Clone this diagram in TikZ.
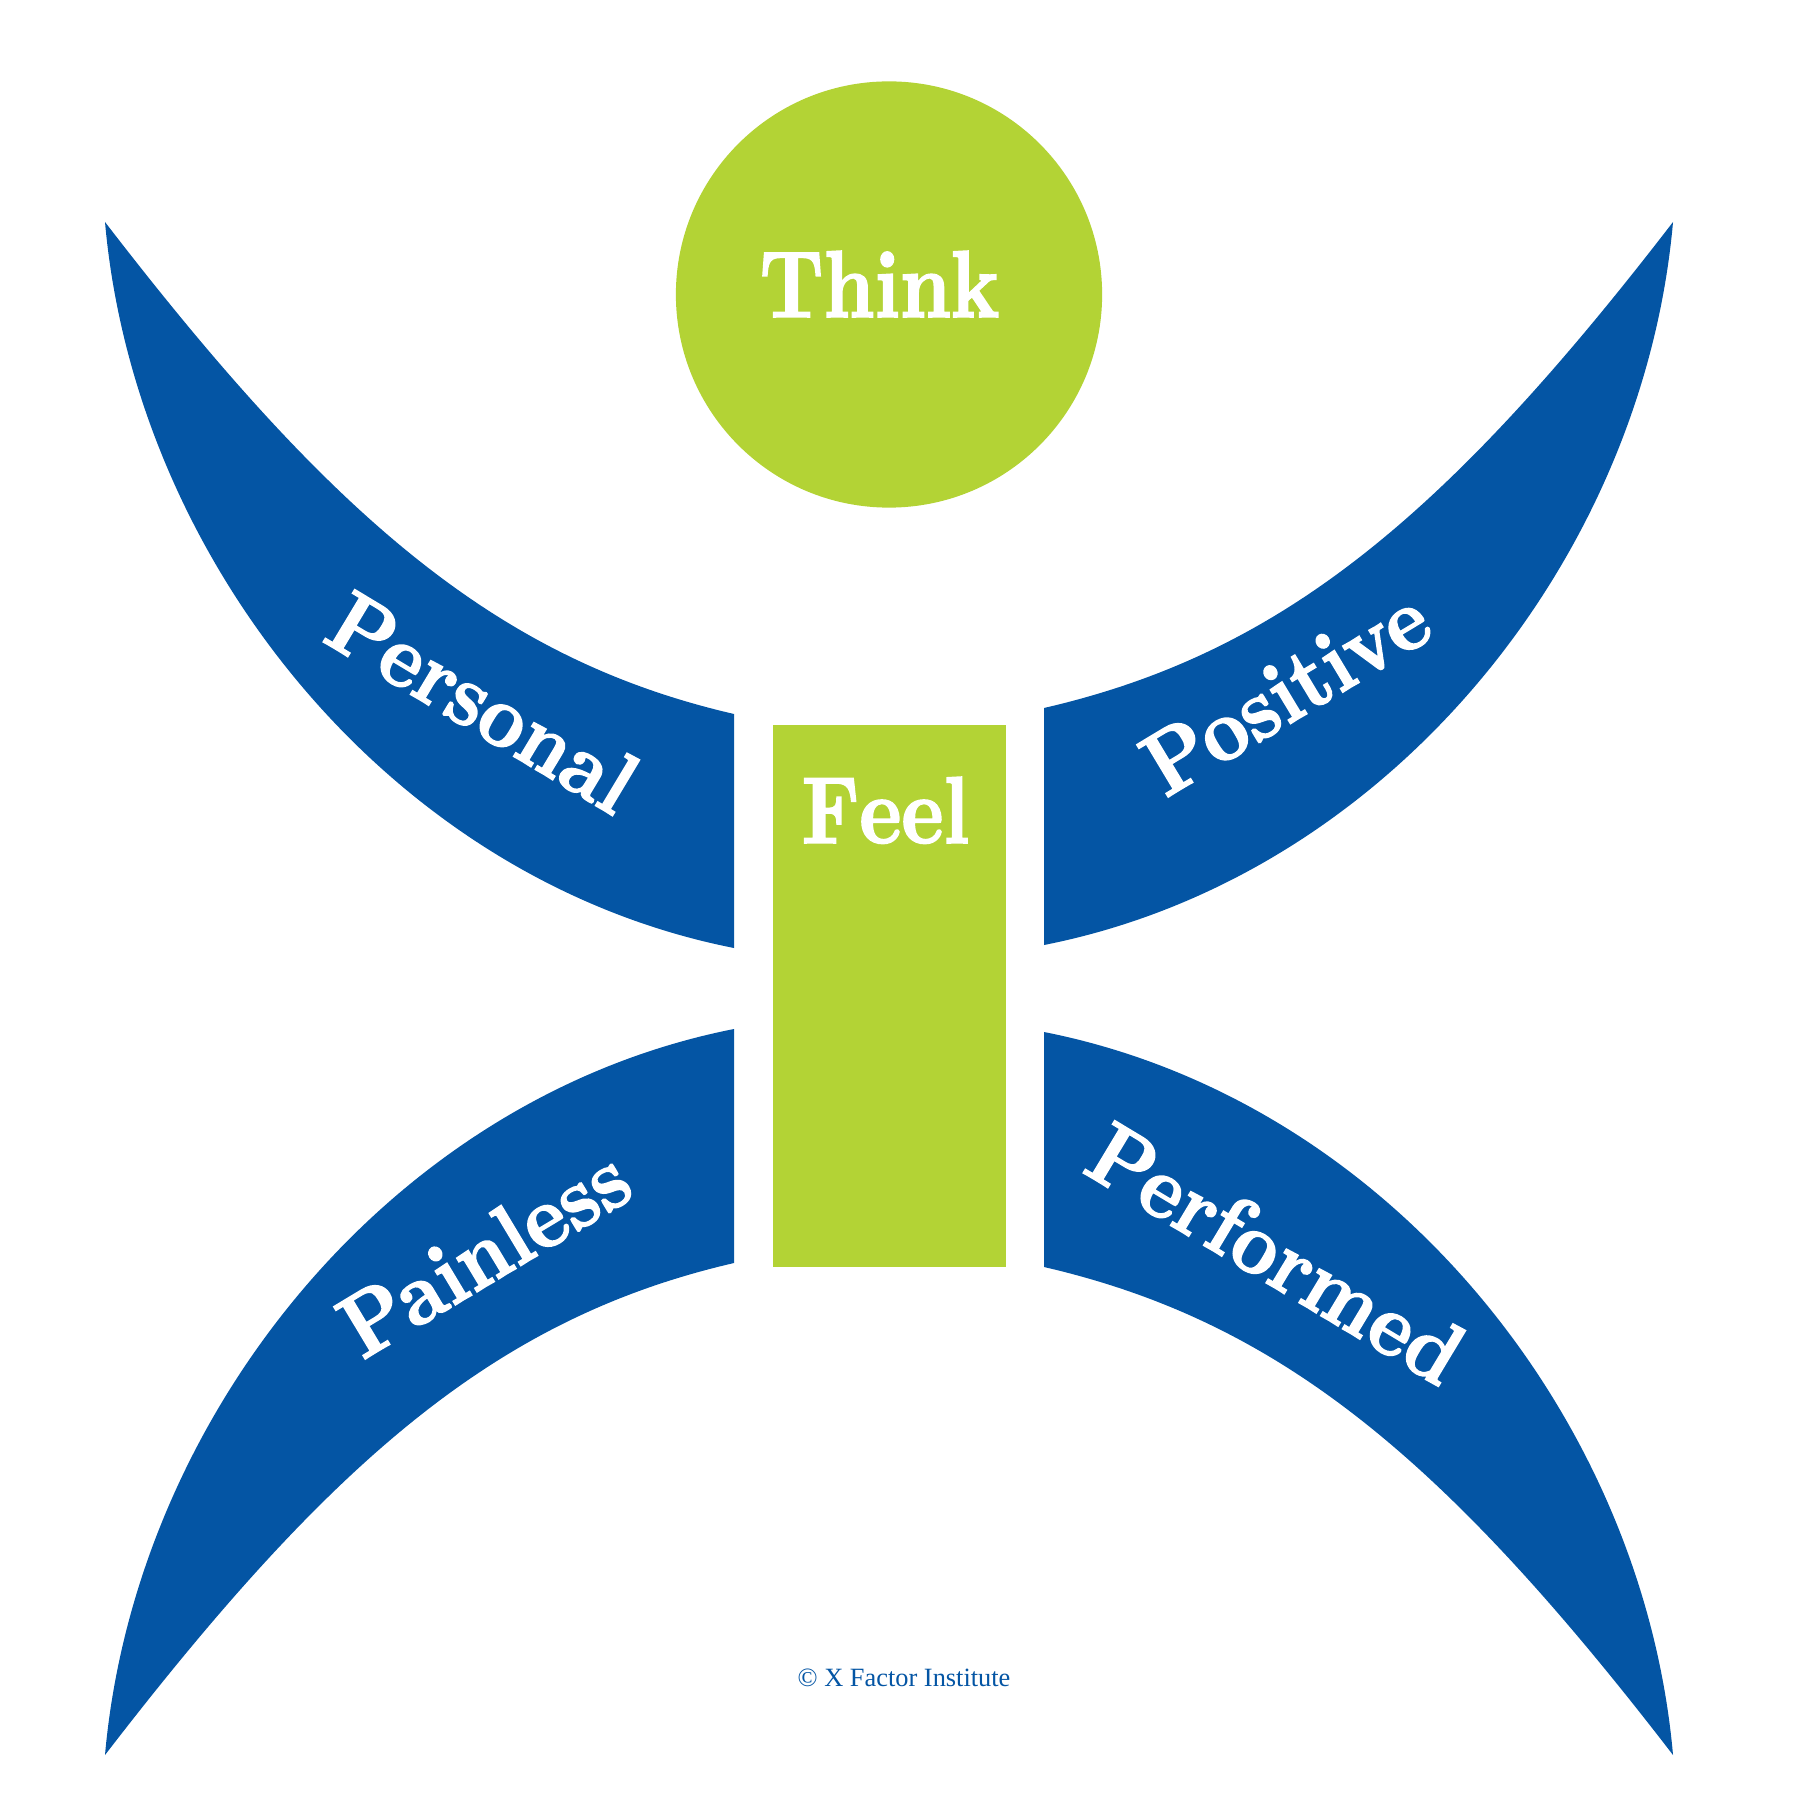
\documentclass[tikz,border=0pt]{standalone}
\usepackage{fontspec}
\setmainfont{Liberation Serif}
\newfontfamily\bigfont[FakeStretch=0.84,FakeBold=1.8,Kerning=Off]{lmroman10-bold.otf}
\newfontfamily\wordfont[FakeStretch=0.895,FakeBold=1.8]{lmroman10-bold.otf}
\definecolor{wingblue}{HTML}{0455A4}
\definecolor{limegreen}{HTML}{B3D335}
\begin{document}
\begin{tikzpicture}[
	x=0.01cm,y=-0.01cm,
	wing/.style={fill=wingblue},
	bodypart/.style={fill=limegreen,inner sep=0pt},
	wordnode/.style={text=white,inner sep=0pt,anchor=base west,font=\fontsize{25.3}{30}\selectfont\wordfont},
	bigword/.style={text=white,inner sep=0pt,anchor=base west,font=\fontsize{27}{30}\selectfont\bigfont}]
	\useasboundingbox (0,0) rectangle (1804,1807);
	% head and body
	\node[bodypart,circle,minimum size=4.26cm] (head) at (889,294.5) {};
	\node[bodypart,rectangle,minimum width=2.33cm,minimum height=5.42cm] (body) at (889.5,996) {};
	% four wings
	\fill[wing] (105,222) .. controls (335,521) and (500,660) .. (734,714) -- (734,948) .. controls (390,880) and (135,560) .. (105,222) -- cycle;
	\fill[wing] (1673,222) .. controls (1443,521) and (1278,654) .. (1044,708) -- (1044,945) .. controls (1388,877) and (1643,560) .. (1673,222) -- cycle;
	\fill[wing] (105,1755) .. controls (335,1456) and (500,1317) .. (734,1263) -- (734,1029) .. controls (390,1097) and (135,1417) .. (105,1755) -- cycle;
	\fill[wing] (1673,1755) .. controls (1443,1456) and (1278,1321) .. (1044,1267) -- (1044,1032) .. controls (1388,1100) and (1643,1417) .. (1673,1755) -- cycle;
	% labels
	\node[bigword] (think) at (759,317) {Think};
	\node[bigword] (feel) at (801,843) {Feel};
	\node[wordnode,rotate=-31] (personal) at (320,640) {Personal};
	\node[wordnode,rotate=31] (positive) at (1165,799) {Positive};
	\node[wordnode,rotate=31] (painless) at (362,1361) {Painless};
	\node[wordnode,rotate=-31] (performed) at (1080,1171) {Performed};
	\node[anchor=base west,inner sep=0pt,text=wingblue,font=\fontsize{7.5}{9}\selectfont] (credit) at (797,1686) {© X Factor Institute};
\end{tikzpicture}
\end{document}
